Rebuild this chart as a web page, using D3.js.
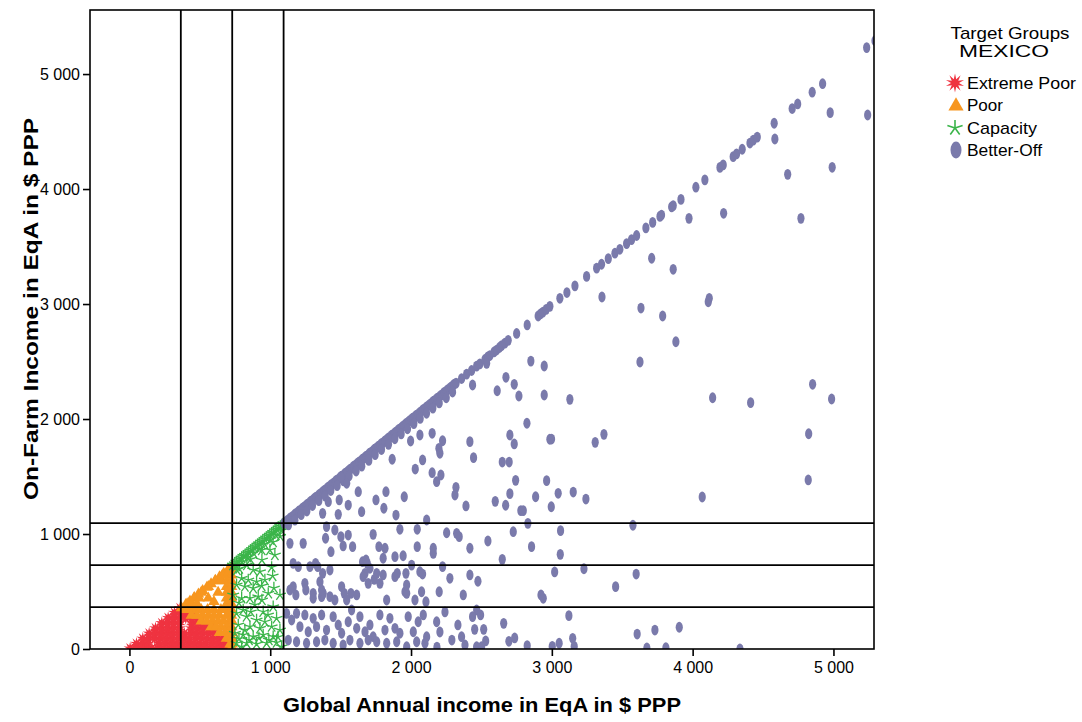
<!DOCTYPE html>
<html>
<head>
<meta charset="utf-8">
<script src="https://cdn.jsdelivr.net/npm/d3@7"></script>
<style>
  body { margin: 0; background: #fff; }
  svg { display: block; }
  text { font-family: "Liberation Sans", Arial, Helvetica, sans-serif; fill: #000; }
</style>
</head>
<body>
<svg id="chart" width="1082" height="722"></svg>
<script>
// ---- Axis ticks and poverty thresholds ($ PPP per year) ----
const xTicks = [0, 1000, 2000, 3000, 4000, 5000];
const yTicks = [0, 1000, 2000, 3000, 4000, 5000];
const thresholds = [365, 730, 1095];

const legendTitle = ["Target Groups", "MEXICO"];
const groupNames = ["Extreme Poor", "Poor", "Capacity", "Better-Off"];
const groupColors = ["#ef3340", "#f7961f", "#3bb54a", "#7a7aab"];

// ---- Households: [global annual income, on-farm income] ----
const extremePoor = [
  [5,5],[40,5],[80,5],[120,5],[160,5],[200,5],[240,5],[285,5],[325,5],[365,5],[405,5],[445,5],[490,5],[530,5],[570,5],[610,5],[650,5],[690,5],
  [50,45],[90,45],[130,45],[210,45],[255,45],[295,45],[335,45],[375,45],[420,45],[460,45],[500,45],[540,45],[585,45],[625,45],[665,45],[695,45],
  [95,90],[135,90],[180,90],[220,90],[260,90],[300,90],[345,90],[385,90],[425,90],[470,90],[510,90],[550,90],[590,90],[630,90],[670,90],
  [140,135],[180,135],[225,135],[265,135],[305,135],[350,135],[390,135],[435,135],[475,135],[515,135],[560,135],[600,135],[640,135],
  [185,180],[225,180],[270,180],[310,180],[355,180],[440,180],[480,180],[520,180],[560,180],[595,180],
  [230,225],[270,225],[315,225],[355,225],[445,225],[485,225],[525,225],[560,225],
  [275,270],[315,270],[360,270],[400,270],[440,270],[480,270],
  [320,315],[360,315],[400,315],[435,315],
  [360,355],[395,350]
];

const poor = [
  [370,365],[400,395],[430,425],[460,455],[490,485],[520,515],[550,545],[580,575],[610,605],[640,635],[670,665],[700,695],[728,724],
  [705,700],[725,700],[660,650],[695,650],[725,650],[610,600],[645,600],[690,600],[725,600],
  [560,550],[690,550],[725,550],[510,500],[690,500],[725,500],[630,500],
  [460,450],[495,450],[690,450],[725,450],[560,450],
  [410,400],[445,400],[480,400],[600,420],[690,400],[725,400],
  [400,350],[440,350],[475,350],[510,350],[555,350],[600,350],[650,350],[690,350],[725,350],
  [440,300],[480,300],[520,300],[560,300],[600,300],[640,300],[690,300],[725,300],
  [510,250],[550,250],[590,250],[630,250],[670,250],[710,250],[728,250],
  [580,200],[615,200],[650,200],[690,200],[725,200],
  [640,150],[680,150],[715,150],[730,150],
  [690,100],[720,100],[732,100],[715,50],[730,50],[722,10],[733,10]
];

const capacity = [
  [735,730],[748,742],[760,756],[772,766],[785,780],[797,790],[810,806],[822,815],[835,830],[847,840],
  [860,855],[872,866],[885,880],[897,890],[910,905],[922,915],[935,930],[947,940],[960,955],[972,966],
  [985,980],[997,990],[1010,1005],[1022,1015],[1035,1030],[1047,1040],[1060,1055],[1072,1066],[1085,1080],[1093,1088],
  [760,722],[800,758],[840,797],[880,836],[920,872],[960,912],[1000,952],[1040,990],[1080,1030],
  [780,700],[860,780],[940,860],[1020,930],[1070,980],
  [998,861],[879,687],[927,672],[1010,710],[1017,635],[797,615],[844,600],[903,585],[962,600],
  [761,557],[820,542],[879,528],[939,548],[986,484],[1069,470],[737,470],[797,441],[856,441],[915,455],
  [808,339],[891,383],[950,324],[1021,368],[761,310],[832,281],[903,252],[962,237],[1045,267],
  [773,209],[856,194],[927,180],[1010,194],[1069,165],[749,137],[808,122],[879,107],[950,122],[1021,107],
  [761,50],[832,50],[903,43],[974,50],[1045,55],[1081,20],[797,20],
  [778,87],[849,78],[920,96],[990,78],[1055,104],[820,165],[984,296],[862,322],[778,400],[941,426],
  [1026,530],[763,687],[834,730],[941,774],[1033,817]
];

const betterOff = [
  // along the on-farm = global income line
  [1098,1095],[1110,1104],[1121,1118],[1133,1126],[1142,1140],[1156,1150],[1168,1161],[1177,1175],[1190,1184],[1203,1200],
  [1214,1206],[1226,1222],[1238,1233],[1251,1245],[1262,1258],[1275,1268],[1287,1284],[1296,1290],[1310,1305],[1322,1318],
  [1335,1327],[1347,1343],[1358,1352],[1371,1366],[1384,1380],[1396,1389],[1407,1403],[1420,1414],[1433,1430],[1445,1437],
  [1458,1452],[1469,1466],[1482,1475],[1495,1490],[1507,1503],[1518,1510],[1531,1527],[1544,1538],[1556,1551],[1567,1563],
  [1580,1572],[1593,1590],[1605,1598],[1617,1612],[1629,1626],[1642,1635],[1654,1650],[1666,1660],[1679,1675],[1691,1684],
  [1703,1700],[1716,1710],[1728,1722],[1740,1737],[1752,1746],[1765,1761],[1777,1770],[1789,1786],[1802,1795],[1814,1810],
  [1826,1820],[1839,1835],[1851,1843],[1863,1860],[1876,1869],[1888,1884],[1900,1894],[1913,1910],[1925,1918],[1937,1933],
  [1950,1944],[1962,1959],[1974,1968],[1987,1983],[1999,1992],[2011,2008],[2024,2016],[2036,2032],[2048,2041],[2061,2056],
  [2073,2066],[2085,2082],[2098,2090],[2110,2106],[2122,2115],[2135,2130],[2147,2140],[2159,2156],[2172,2164],[2184,2180],
  [2196,2188],[2209,2204],[2221,2213],[2233,2230],[2246,2238],[2258,2254],[2270,2262],[2283,2278],[2295,2288],[2307,2304],[2320,2312],
  [1130,1080],[1175,1120],[1220,1168],[1260,1200],[1300,1248],[1345,1290],[1390,1330],[1430,1378],[1475,1420],[1520,1462],
  [1560,1505],[1610,1548],[1650,1590],[1700,1640],[1745,1690],[1790,1735],[1840,1780],[1885,1828],[1930,1870],[1975,1915],
  [2020,1960],[2065,2005],[2110,2050],[2155,2095],[2200,2140],[2250,2185],[2295,2235],
  [2359,2352],[2395,2390],[2430,2422],[2466,2460],[2489,2480],[2525,2518],[2545,2540],[2560,2552],[2590,2584],[2608,2600],
  [2628,2622],[2643,2638],[2667,2660],[2690,2684],[2750,2744],[2825,2818],[2903,2896],[2920,2914],[2937,2930],[2960,2954],
  [2986,2980],[3057,3050],[3107,3100],[3164,3158],[3247,3240],[3318,3312],[3353,3346],[3401,3395],[3448,3442],[3483,3476],
  [3531,3525],[3566,3560],[3602,3596],[3668,3662],[3716,3710],[3768,3762],[3779,3774],[3851,3845],[3862,3856],[3917,3910],
  [4023,4016],[4087,4080],[4194,4188],[4217,4210],[4288,4282],[4312,4306],[4352,4346],[4407,4400],[4431,4425],[4459,4452],
  [4579,4572],[4707,4700],[4746,4740],[4849,4842],[4923,4916],[5236,5230],[5295,5290],
  // farms with substantial off-farm income
  [3709,3398],[3862,3302],[3974,3745],[4220,3789],[4584,4435],[4675,4128],[4769,3745],[4977,4664],[4991,4189],[5243,4644],
  [3787,2896],[4118,3050],[4111,3020],[3881,2672],[4142,2185],[4412,2142],[4852,2302],[4987,2174],[4824,1872],[4821,1470],
  [4068,1322],[3905,189],[3810,11],[4336,0],[3356,3061],[3633,2965],
  [2437,2296],[2851,2504],[2946,2461],[3626,2496],[2674,2363],[2733,2302],[2612,2246],[2766,2200],[2946,2209],[3128,2171],
  [2823,1963],[2702,1861],[2733,1783],[2986,1824],[2998,1826],[3308,1797],[3370,1867],[2418,1803],[2444,1664],[2648,1626],
  [2697,1626],[2743,1467],[2963,1464],[2702,1351],[2598,1284],[2672,1250],[2885,1324],[3045,1354],[3152,1365],[3242,1304],
  [2996,1237],[2780,1203],[2797,1203],[2830,1093],[3576,1076],[2726,1020],[3062,1029],[2546,939],[2418,876],[2856,890],
  [3060,823],[2648,780],[3020,670],[3228,698],[3599,652],[3453,542],[2418,644],[2475,589],[2923,470],[2939,441],
  [2466,339],[2494,296],[3121,290],[2658,223],[2452,171],[2516,171],[3606,130],[3732,165],[2530,70],[3148,93],
  [2695,67],[2736,96],[2825,29],[3003,23],[3052,50],[3159,23],[2466,20],[2501,20],[3675,9],
  [1997,1809],[2063,1861],[2150,1876],[2224,1811],[2198,1745],[2205,1702],[2082,1644],[2030,1565],[2150,1533],[2212,1513],
  [2182,1455],[1952,1324],[2319,1406],[2312,1339],[2390,1244],[2111,1122],[1921,1041],[2044,1041],[2253,1011],[2324,1006],
  [2342,977],[2537,2484],
  [1866,1650],[1543,1441],[1502,1498],[1625,1368],[1412,1281],[1490,1296],[1554,1252],[1751,1296],[1822,1368],[1372,1180],
  [1483,1171],[1649,1194],[1807,1224],[1893,1165],[1400,1064],[1459,1035],[1393,963],[1502,977],[1518,896],[1554,991],
  [1585,890],[1731,997],[1772,890],[1815,876],[2044,890],[2158,876],[2158,832],[1886,803],[1944,811],[1140,919],
  [1234,919],[1163,745],[1322,745],[1337,716],[1424,687],[1199,716],[1282,716],[1372,658],[1656,759],[1680,774],
  [1689,745],[1708,702],[1802,789],[1673,658],[1779,571],[1886,629],[1902,658],[1964,658],[2082,652],[2224,716],
  [2276,615],[1163,542],[1246,571],[1253,513],[1182,470],[1305,484],[1365,455],[1376,484],[1507,542],[1526,484],
  [1573,484],[1614,470],[1696,571],[1739,606],[1957,498],[1969,484],[2106,411],[2200,498],[2371,470],[2437,281],[2182,237],
  [1431,846],[1353,585],[1365,513],[1305,441],[1424,455],[1459,426],[1543,426],[1660,629],[1756,658],[1802,644],
  [1827,426],[1969,557],[2028,426],[2075,498],[2004,730],[2063,672],[1140,513],
  [1116,310],[1152,252],[1187,310],[1211,194],[1246,296],[1270,150],[1305,267],[1329,194],[1365,296],[1400,165],
  [1447,281],[1483,209],[1507,137],[1554,237],[1578,339],[1614,180],[1637,281],[1673,150],[1708,209],[1731,107],
  [1779,296],[1815,165],[1850,267],[1886,180],[1921,137],[1980,281],[2016,150],[2051,237],[2087,296],[2111,107],
  [1128,78],[1187,63],[1258,50],[1329,63],[1388,78],[1447,50],[1518,35],[1566,78],[1637,50],[1696,78],
  [1756,63],[1827,50],[1898,63],[1969,20],[2040,63],[2099,50],
  [2241,322],[2333,209],[2205,148],[2290,78],[2383,35],[2184,17],[2359,107]
];

// ---- Layout ----
const svg = d3.select("#chart");
const plot = { left: 90, right: 874, top: 10, bottom: 649 };

const x = d3.scaleLinear().domain([-280, 5288]).range([plot.left, plot.right]);
const y = d3.scaleLinear().domain([0, 5557]).range([plot.bottom, plot.top]);

const fmt = d => d3.format(",")(d).replace(/,/g, " ");

svg.append("defs").append("clipPath").attr("id", "plotClip")
  .append("rect")
  .attr("x", plot.left).attr("y", plot.top)
  .attr("width", plot.right - plot.left).attr("height", plot.bottom - plot.top);

// ---- Marker shapes ----
function burstPath(rOut, rIn, n) {
  const pts = [];
  for (let i = 0; i < 2 * n; i++) {
    const a = i * Math.PI / n - Math.PI / 2;
    const r = i % 2 === 0 ? rOut : rIn;
    pts.push([r * Math.cos(a), r * Math.sin(a)]);
  }
  return "M" + pts.map(p => p[0].toFixed(2) + "," + p[1].toFixed(2)).join("L") + "Z";
}
function asteriskPath(r) {
  let p = "";
  for (let i = 0; i < 5; i++) {
    const a = -Math.PI / 2 + i * 2 * Math.PI / 5;
    p += "M0,0L" + (r * Math.cos(a)).toFixed(2) + "," + (r * Math.sin(a)).toFixed(2);
  }
  return p;
}
const triPath = d3.symbol(d3.symbolTriangle, 58)();
const triPathLegend = d3.symbol(d3.symbolTriangle, 100)();

const marks = svg.append("g").attr("clip-path", "url(#plotClip)");

marks.append("g").selectAll("path").data(extremePoor).join("path")
  .attr("d", burstPath(6.8, 3.0, 10))
  .attr("transform", d => `translate(${x(d[0])},${y(d[1])})`)
  .attr("fill", groupColors[0]);

marks.append("g").selectAll("path").data(poor).join("path")
  .attr("d", triPath)
  .attr("transform", d => `translate(${x(d[0])},${y(d[1]) + 1})`)
  .attr("fill", groupColors[1]);

marks.append("g").selectAll("path").data(capacity).join("path")
  .attr("d", asteriskPath(6.2))
  .attr("transform", d => `translate(${x(d[0])},${y(d[1])})`)
  .attr("fill", "none")
  .attr("stroke", groupColors[2])
  .attr("stroke-width", 1.3);

marks.append("g").selectAll("ellipse").data(betterOff).join("ellipse")
  .attr("cx", d => x(d[0]))
  .attr("cy", d => y(d[1]))
  .attr("rx", 3.6).attr("ry", 5.4)
  .attr("fill", groupColors[3]);

// ---- Threshold lines ----
const refs = svg.append("g").attr("stroke", "#000").attr("stroke-width", 1.8);
refs.selectAll("line.v").data(thresholds).join("line").attr("class", "v")
  .attr("x1", d => x(d)).attr("x2", d => x(d))
  .attr("y1", plot.top).attr("y2", plot.bottom);
refs.selectAll("line.h").data(thresholds).join("line").attr("class", "h")
  .attr("x1", plot.left).attr("x2", plot.right)
  .attr("y1", d => y(d)).attr("y2", d => y(d));

// ---- Frame and axes ----
svg.append("rect")
  .attr("x", plot.left).attr("y", plot.top)
  .attr("width", plot.right - plot.left).attr("height", plot.bottom - plot.top)
  .attr("fill", "none").attr("stroke", "#000").attr("stroke-width", 1.6);

const xAxis = svg.append("g")
  .attr("transform", `translate(0,${plot.bottom})`)
  .call(d3.axisBottom(x).tickValues(xTicks).tickSize(7).tickSizeOuter(0).tickPadding(6).tickFormat(fmt));
const yAxis = svg.append("g")
  .attr("transform", `translate(${plot.left},0)`)
  .call(d3.axisLeft(y).tickValues(yTicks).tickSize(7).tickSizeOuter(0).tickPadding(3).tickFormat(fmt));

[xAxis, yAxis].forEach(g => {
  g.select(".domain").remove();
  g.selectAll(".tick line").attr("stroke", "#000").attr("stroke-width", 1.6);
  g.selectAll(".tick text")
    .style("font-family", "'Liberation Sans', Arial, sans-serif")
    .style("font-size", "16px").attr("fill", "#000");
});
yAxis.selectAll(".tick text").attr("dy", "0.36em");

// ---- Axis titles ----
svg.append("text")
  .attr("x", 482).attr("y", 712)
  .attr("text-anchor", "middle")
  .attr("textLength", 398).attr("lengthAdjust", "spacingAndGlyphs")
  .style("font-size", "21px").style("font-weight", "bold")
  .text("Global Annual income in EqA in $ PPP");

svg.append("text")
  .attr("transform", "translate(38,309) rotate(-90)")
  .attr("text-anchor", "middle")
  .attr("textLength", 382).attr("lengthAdjust", "spacingAndGlyphs")
  .style("font-size", "21px").style("font-weight", "bold")
  .text("On-Farm Income in EqA in $ PPP");

// ---- Legend ----
const legend = svg.append("g");
legend.append("text").attr("x", 1010).attr("y", 39).attr("text-anchor", "middle")
  .attr("textLength", 119).attr("lengthAdjust", "spacingAndGlyphs")
  .style("font-size", "17px").text(legendTitle[0]);
legend.append("text").attr("x", 1004).attr("y", 57).attr("text-anchor", "middle")
  .attr("textLength", 90).attr("lengthAdjust", "spacingAndGlyphs")
  .style("font-size", "17px").text(legendTitle[1]);

const itemY = [83, 105, 128, 150];
const itemWidths = [109, 36, 70, 75];
legend.append("path").attr("d", burstPath(9.5, 4, 10))
  .attr("transform", `translate(955,${itemY[0]})`).attr("fill", groupColors[0]);
legend.append("path").attr("d", triPathLegend)
  .attr("transform", `translate(956,${itemY[1] + 1})`).attr("fill", groupColors[1]);
legend.append("path").attr("d", asteriskPath(8))
  .attr("transform", `translate(955,${itemY[2]})`)
  .attr("fill", "none").attr("stroke", groupColors[2]).attr("stroke-width", 1.6);
legend.append("ellipse").attr("cx", 956).attr("cy", itemY[3]).attr("rx", 5.5).attr("ry", 8.5)
  .attr("fill", groupColors[3]);

legend.selectAll("text.item").data(groupNames).join("text").attr("class", "item")
  .attr("x", 967).attr("y", (d, i) => itemY[i] + 6)
  .attr("textLength", (d, i) => itemWidths[i]).attr("lengthAdjust", "spacingAndGlyphs")
  .style("font-size", "17px")
  .text(d => d);
</script>
</body>
</html>
